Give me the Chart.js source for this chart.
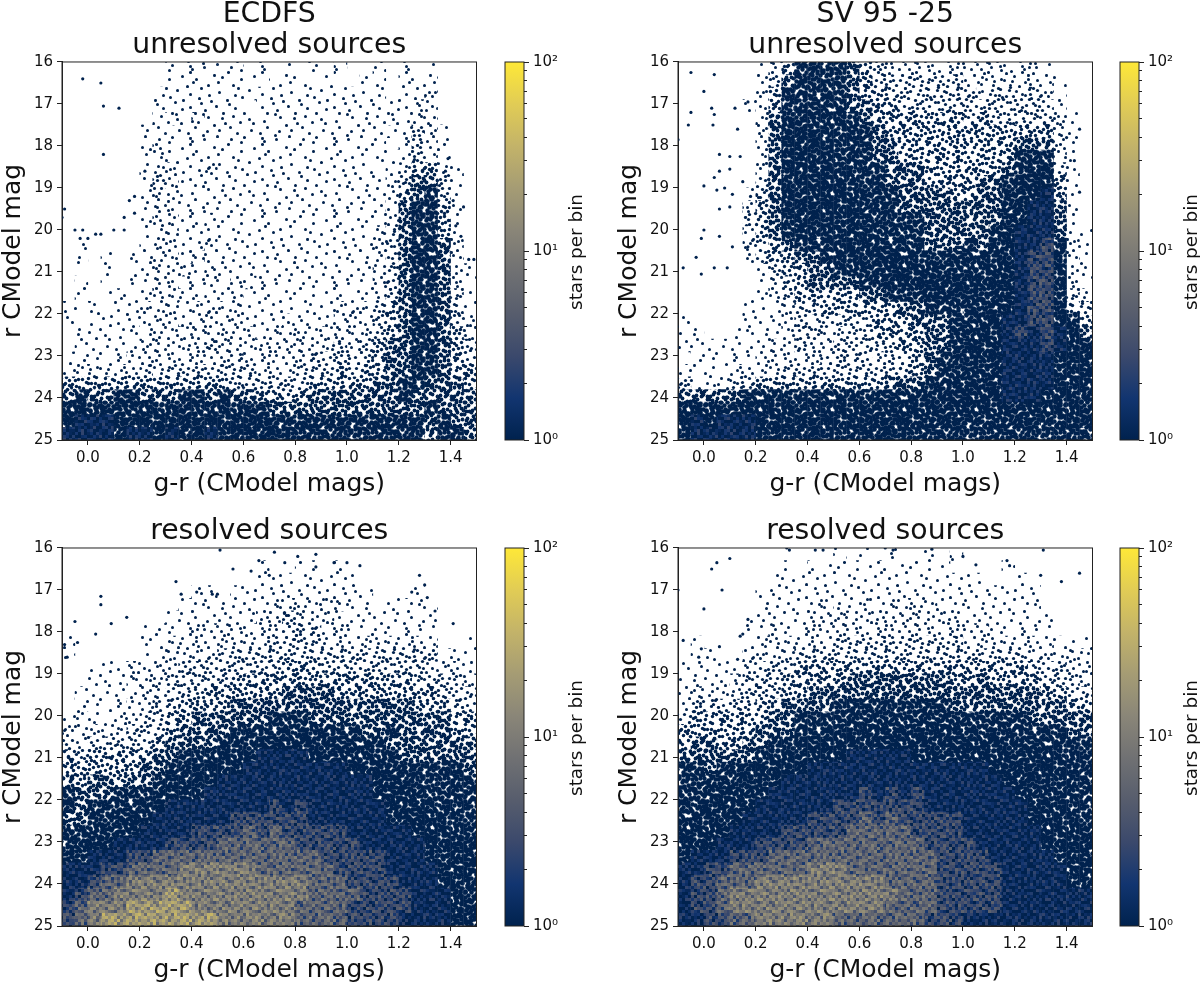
<!DOCTYPE html>
<html><head><meta charset="utf-8">
<script src="https://cdn.jsdelivr.net/npm/chart.js@4"></script>
<style>
html,body{margin:0;padding:0;background:#fff;width:1200px;height:984px;overflow:hidden}
canvas{position:absolute;display:block;filter:blur(0.4px)}
</style></head><body>
<script>
const colourBins=[-0.075,-0.025,0.025,0.075,0.125,0.175,0.225,0.275,0.325,0.375,0.425,0.475,0.525,0.575,0.625,0.675,0.725,0.775,0.825,0.875,0.925,0.975,1.025,1.075,1.125,1.175,1.225,1.275,1.325,1.375,1.425,1.475];
const magBins=[16.15,16.45,16.75,17.05,17.35,17.65,17.95,18.25,18.55,18.85,19.15,19.45,19.75,20.05,20.35,20.65,20.95,21.25,21.55,21.85,22.15,22.45,22.75,23.05,23.35,23.65,23.95,24.25,24.55,24.85];
const xTickValues=[0,0.2,0.4,0.6,0.8,1.0,1.2,1.4];
const yTickValues=[16,17,18,19,20,21,22,23,24,25];
const cbarMajor=[1,10,100];
const cbarMinor=[2,3,4,5,6,7,8,9,20,30,40,50,60,70,80,90];
// density level (hex digit per cell): fraction of bins occupied (tenths), then mean stars per occupied bin
const levelCoverage=[0,1,2,3,4,6,8,9,10,10,10,10,10];
const levelStars=[1,1,1,1,1,1,1,1,1.4,3,6,11,22];
const ecdfsUnresolvedCells=[
"00000000111111010101010010101000",
"00000000111111101110100110111000",
"00000001111111111111111110112000",
"00000001111111011111111111122000",
"00000001212111111111111112122000",
"00000011111111111111111111132100",
"00000012111111111111111110132100",
"00000012111111111111111111132100",
"00000012211211111111111101244210",
"00000013211111111111111112355310",
"00000012211111111111111112456310",
"00000012211111111111111112566410",
"00000012211211111111111112566410",
"00000012211111111111111123566410",
"01000012211211111111111123566520",
"01010112212111111111111123566520",
"00010112221211111111111123566521",
"01010112211212211111111123566521",
"01011112221212111111111123566531",
"11101122212222111111122234566531",
"10111122212222111211122234566532",
"01111112222222212222222234566542",
"01111122222322222222232345566543",
"11111222222223222223333345566543",
"22222232333333322233343445566544",
"44444444444443333334444455665554",
"56556655566565544445555555655555",
"77676676676666665555555555556555",
"78887777777777776666666666665655",
"88887887877877777766666666665665"];
const sv95UnresolvedCells=[
"00000012466665432222222222221000",
"00000013566665433333332222222100",
"00000024666665443333333233232100",
"00000124666665544333333333333100",
"00000025676666544444443433333210",
"00000025777666654444444444444210",
"00000025777766655444444444555210",
"00000025777766655444444444666210",
"00000025777776665554444445677310",
"00000035777776665554444556777410",
"00000135777777666555544556778410",
"00000245777777666555555556788510",
"00000345677777666665555556788510",
"00000245677777766665555567888511",
"00000234566677776665556567889621",
"00000134455667777666666677899621",
"00000013445566677777666677899721",
"00000012345555667777777777899721",
"00000112344444556667777777899732",
"00000111233444444556667777899743",
"10000111232333344455566778899764",
"11001111233223344445566778989875",
"11111112232233333445567778889877",
"01111122222333323345667778888777",
"21112222333333333445667778888777",
"31123344444444445556677778888777",
"55555666666666666667777778887777",
"77767777777777777777777777777777",
"78788877777777777766776666776677",
"78888877777766777766666666666666"];
const ecdfsResolvedCells=[
"00000000000000000000000000000000",
"00000000000000010011010000000000",
"00000000000000011111111000000000",
"00000000001101111111111100010000",
"00000000011111112222221101111000",
"00000000111111122322211111111000",
"00000011112222222333221111111000",
"10000011222222223333222222222001",
"10000011222233333333333333333111",
"00111222233333333444333333332221",
"00111222333334444444444444433332",
"01111122333444444555544444444333",
"01111223344445555555555555544433",
"12112233445555556665555555555544",
"22222333455556666666666556555544",
"32333334555566677777766665555555",
"43444445566677788887776666555555",
"44444455667777888888887776666665",
"54554556777788888888888877766666",
"65556667777888888888888877776666",
"65666677888888889898888887776666",
"55666778888889999998888887777666",
"66667788889999a9a999998888877766",
"677788889999aaaaaa99999888887777",
"7788899aaaaaaaaaaaaa999998887777",
"88899aaaabbbbbbaaaaaa99998888777",
"889aabbbbbbbbbbbbbbaaa9999888777",
"89aabbbbcbbbbbbbbbbaaaa999988877",
"9abbbcccccbbbbbbbbaaaa9999988877",
"9abcccccccccbbbbbbaaaa9999888877"];
const sv95ResolvedCells=[
"00000000000010101001010000000000",
"00000000101111111111100001000000",
"00000001111111111111111100100000",
"00000011111111111111111111110000",
"00000011111211212222111111110000",
"00000111112222222222221111111000",
"00000112112222222222222211111000",
"01000122222233333333332222222111",
"01100222233333333333333333322222",
"11111233344444444444444444433322",
"11112333444445555555544544443332",
"12222333445555555555555555554433",
"23333344555566666666655555555544",
"34444445566666666666666666655555",
"44444455566677777777776666666655",
"45544556677777777777777777666666",
"55555566777778888877777777777666",
"66566777778888888888888877777766",
"66666777888888888888888887777766",
"66677778888888989898888888777766",
"66777788888899999998888888877766",
"66777888889999a9a999998888877776",
"7777888899999aaaaa99998888887777",
"7778889999aaaaaaaaa9999888887777",
"7888999aaaaaaaaaaaaa999988888777",
"8899aaaaaabbbaaaaaaa999998888877",
"899aaabbbbbbbbbbaaaa999998888877",
"899abbbbbbbbbbbbbaaa999998888888",
"899abbbbbbbbbbbbaaaa999998888888",
"8899aabbbbbbaaaaaaa9998888888888"];
const ecdfsUnresolvedX=[-0.02,0.05,0.06,0.12,0.06,-0.09,-0.1,-0.05,-0.02,0.22,0.18,0.16,0.18,0.14,0.14,0.1,0.05,0.03,0,-0.03,1.45,1.47,1.49,1.44,1.39,1.41,1.42,1.38];
const ecdfsUnresolvedY=[16.4,16.5,17.05,17.1,18.2,19.5,19.7,20,20,18.6,19.2,19.3,19.6,19.7,20,20,20.1,20.1,20.2,20.2,19.45,20.7,20.7,20.15,18.3,19.3,19.9,18.6];
const sv95UnresolvedX=[-0.05,0.04,0,0.03,-0.05,-0.06,0.04,0.035,0.12,0.17,0.13,-0.1,0.06,0.1,0.14,0.1,0.04,0.06,0,0.05,0.08,0.11,0.15,0.18,0.06,0.1,0,-0.01,0.06,0.11,-0.03,0.17,0.09,-0.08,0.04,-0.01,1.45,1.4,1.43,1.45];
const sv95UnresolvedY=[16.25,16.3,16.7,17.1,17.2,17.5,17.25,17.5,17.1,16.95,17.6,17.85,18.2,18.25,18.25,18.55,18.75,18.6,18.95,19.05,19,19.15,18.85,19.2,19.5,19.45,20,20.2,20.15,20.4,20.65,20.4,20.9,20.9,20.9,21.05,17.6,17.8,18.35,19.1];
const ecdfsResolvedX=[0.05,0.05,-0.05,0.03,0.09,0.15,-0.09,-0.04,-0.08,0.51,0.72,0.66,0.81,0.88,0.88,0.76,0.95,1,1.05,0.56,0.63,0.7,0.34,1.28,1.3,1.25,1.31,0.42,0.36,0.48,0.5,1.34,1.41];
const ecdfsResolvedY=[17.15,17.35,17.75,18.05,17.8,17.65,18.3,18.25,18.6,16.05,16.1,16.3,16.2,16.15,16.45,16.35,16.35,16.35,16.42,16.5,16.55,16.65,16.8,16.65,16.88,17.05,17.18,17.05,17.1,17.1,17.1,17.5,17.8];
const sv95ResolvedX=[0.05,0.1,0.03,0.07,-0.1,0,0.17,0.32,0.33,0.43,0.46,0.7,0.73,0.88,1,1.05,1.17,1.18,1.31,1.3,1.45,1.38,-0.08,-0.01,-0.02,0.06,0.15,0.13,0.14];
const sv95ResolvedY=[16.35,16.25,16.5,17,17,17.45,17.7,16,16.05,16.05,16.05,16,16.05,16.03,16.2,16.4,16.3,16.42,16.05,16.65,16.6,16.8,18.2,18.4,18.6,18.35,18.05,18.65,18.1];
const cividisStops=['#00224e','#123570','#3b496c','#575d6d','#707173','#8a8678','#a59c74','#c3b369','#e1cc55','#fee838'];
// speckle rank tile, hand-typed: sets the grain inside each density cell
const grain=["371904628513749026815374","820561374926035871492860","469128750163972450361928","053794162788135604927645","716230845931620783154096","294857601472389561209738","601382976450812639742581","947513029783456018296047","128675490316297546083152","583046218259704192671803","369401784602518373508496","072953861947863024916275","814629057361049285760319","430276415098361710239864","697130582814926547801532","150864927360478193526047","926381750429615306183729","274019365872039472658410","781504239146752830941653","309652871630894161725028","542197603785210684397261","086713546092547326104895","835260491278396051470936","417926830541782903862714"];
const grainGain=[0.3,0.45,0.6,0.75,0.85,1,1.1,1.25,1.45,1.75];
const levelDotRadius=[0,1.5,1.5,1.6,1.7,1.9,2.2,2.3];
const NAVY='#00224e';
const font='"DejaVu Sans"';
const TXT='#111';

function hexToRgb(h){return [1,3,5].map(i=>parseInt(h.substr(i,2),16));}
function cividis(stars){
  const t=Math.min(1,Math.max(0,Math.log10(Math.max(1,stars))/2))*(cividisStops.length-1);
  const i=Math.min(cividisStops.length-2,Math.floor(t)),f=t-i;
  const a=hexToRgb(cividisStops[i]),b=hexToRgb(cividisStops[i+1]);
  return `rgb(${a.map((v,k)=>Math.round(v+(b[k]-v)*f)).join(',')})`;
}
const BLOCK=3;
function makeLevelPattern(level){
  const T=grain.length*BLOCK;
  const c=document.createElement('canvas');c.width=c.height=T;
  const g=c.getContext('2d');
  for(let r=0;r<grain.length;r++)for(let k=0;k<grain.length;k++){
    const rank=+grain[r][k];
    if(levelCoverage[level]<10){
      if(rank>=levelCoverage[level])continue;
      const dx=(+grain[(r+7)%24][(k+11)%24])%3-1,dy=(+grain[(r+13)%24][(k+5)%24])%3-1;
      g.fillStyle=NAVY;
      for(const ox of [-T,0,T])for(const oy of [-T,0,T]){
        g.beginPath();g.arc(k*BLOCK+1.5+dx+ox,r*BLOCK+1.5+dy+oy,levelDotRadius[level],0,7);g.fill();
      }
    }else{
      g.fillStyle=cividis(levelStars[level]*grainGain[rank]);
      g.fillRect(k*BLOCK,r*BLOCK,BLOCK,BLOCK);
    }
  }
  return c;
}
const levelTiles=levelCoverage.map((_,l)=>l?makeLevelPattern(l):null);

const framePlugin={id:'frame',afterDatasetsDraw(ch){
  const a=ch.chartArea,c=ch.ctx;c.save();c.strokeStyle='#222';c.lineWidth=1;
  c.strokeRect(a.left,a.top,a.right-a.left,a.bottom-a.top);c.restore();}};
const cbarTitlePlugin={id:'cbarTitle',afterDraw(ch){
  const c=ch.ctx,a=ch.chartArea;c.save();c.fillStyle=TXT;c.font='18.4px '+font;
  c.textAlign='center';c.textBaseline='middle';
  c.translate(82,(a.top+a.bottom)/2+1);c.rotate(-Math.PI/2);c.fillText('stars per bin',0,0);c.restore();}};

function addCanvas(l,t,w,h){const c=document.createElement('canvas');c.width=w;c.height=h;
  c.style.left=l+'px';c.style.top=t+'px';c.style.width=w+'px';c.style.height=h+'px';document.body.appendChild(c);return c;}

function panel(left,top,height,titleLines,titlePad,rows,dotX,dotY){
  const canvas=addCanvas(left,top,486,height);
  const ctx=canvas.getContext('2d');
  const patterns=levelTiles.map(t=>t?ctx.createPattern(t,'repeat'):null);
  const cells=[],levels=[];
  rows.forEach((row,j)=>{[...row].forEach((ch,i)=>{const l=parseInt(ch,16);
    if(l){cells.push({x:colourBins[i],y:magBins[j]});levels.push(l);}});});
  new Chart(ctx,{type:'scatter',
    data:{datasets:[
      {data:cells,pointStyle:'rect',pointRadius:9.5,pointBorderWidth:0,pointHoverRadius:9.5,
       pointBackgroundColor:c=>patterns[levels[c.dataIndex]],order:2},
      {data:dotX.map((x,i)=>({x,y:dotY[i]})),pointStyle:'circle',pointRadius:1.6,pointBorderWidth:0,
       pointBackgroundColor:NAVY,order:1}]},
    options:{responsive:false,animation:false,events:[],devicePixelRatio:1,
      layout:{padding:{left:0,right:3,top:0,bottom:0}},
      plugins:{legend:{display:false},tooltip:{enabled:false},
        title:{display:true,text:titleLines,fullSize:false,color:TXT,
          font:{family:font,size:28.3,weight:'normal',lineHeight:1.095},padding:titlePad}},
      scales:{
        x:{type:'linear',min:-0.1,max:1.5,
          afterFit(s){s.height=56;},
          afterBuildTicks(s){s.ticks=xTickValues.map(value=>({value}));},
          grid:{drawOnChartArea:false,tickLength:5,tickColor:'#222',color:'#222'},
          border:{display:true,color:'#222'},
          ticks:{autoSkip:false,maxRotation:0,color:TXT,padding:4,font:{family:font,size:15},callback:v=>v.toFixed(1)},
          title:{display:true,text:'g-r (CModel mags)',color:TXT,font:{family:font,size:25,lineHeight:1.1},padding:{top:0,bottom:-2}}},
        y:{type:'linear',reverse:true,min:16,max:25,
          afterFit(s){s.width=62;},
          afterBuildTicks(s){s.ticks=yTickValues.map(value=>({value}));},
          grid:{drawOnChartArea:false,tickLength:5,tickColor:'#222',color:'#222'},
          border:{display:true,color:'#222'},
          ticks:{autoSkip:false,color:TXT,padding:4,font:{family:font,size:15},callback:v=>String(v)},
          title:{display:true,text:'r CModel mag',color:TXT,font:{family:font,size:25,lineHeight:1.1},padding:{top:0,bottom:0}}}
      }},
    plugins:[framePlugin]});
}
function colorbar(left,top,height,padBottom,padTop){
  const canvas=addCanvas(left,top,105,height);
  new Chart(canvas.getContext('2d'),{type:'bar',
    data:{labels:['stars per bin'],datasets:[{data:[[1,100]],barPercentage:1,categoryPercentage:1,yAxisID:'y',
      backgroundColor(c){const a=c.chart.chartArea;if(!a)return NAVY;
        const g=c.chart.ctx.createLinearGradient(0,a.bottom,0,a.top);
        cividisStops.forEach((s,i)=>g.addColorStop(i/(cividisStops.length-1),s));return g;}}]},
    options:{responsive:false,animation:false,events:[],devicePixelRatio:1,
      layout:{padding:{left:10,right:0,top:padTop,bottom:padBottom}},
      plugins:{legend:{display:false},tooltip:{enabled:false}},
      scales:{
        x:{display:false},
        y:{type:'logarithmic',position:'right',min:1,max:100,weight:2,
          afterFit(s){s.width=76;},
          afterBuildTicks(s){s.ticks=cbarMajor.map(value=>({value}));},
          grid:{drawOnChartArea:false,tickLength:5,tickColor:'#222',color:'#222'},border:{display:false},
          ticks:{autoSkip:false,color:TXT,padding:4,font:{family:font,size:15},callback:v=>({1:'10⁰',10:'10¹',100:'10²'})[v]||''}},
        y2:{type:'logarithmic',position:'right',min:1,max:100,weight:1,
          afterFit(s){s.width=0;},
          afterBuildTicks(s){s.ticks=cbarMinor.map(value=>({value}));},
          grid:{drawOnChartArea:false,tickLength:3,tickColor:'#222',color:'#222'},border:{display:false},
          ticks:{autoSkip:false,padding:0,font:{size:1},callback:()=>''}}
      }},
    plugins:[framePlugin,cbarTitlePlugin]});
}
panel(0,0,496,['ECDFS','unresolved sources'],{top:-1,bottom:1},ecdfsUnresolvedCells,ecdfsUnresolvedX,ecdfsUnresolvedY);
panel(616,0,496,['SV 95 -25','unresolved sources'],{top:-1,bottom:1},sv95UnresolvedCells,sv95UnresolvedX,sv95UnresolvedY);
panel(0,490,492,['resolved sources'],{top:26,bottom:1},ecdfsResolvedCells,ecdfsResolvedX,ecdfsResolvedY);
panel(616,490,492,['resolved sources'],{top:26,bottom:1},sv95ResolvedCells,sv95ResolvedX,sv95ResolvedY);
colorbar(495,0,490,50,62);
colorbar(1110,0,490,50,62);
colorbar(495,490,486,50,58);
colorbar(1110,490,486,50,58);
</script>
</body></html>
